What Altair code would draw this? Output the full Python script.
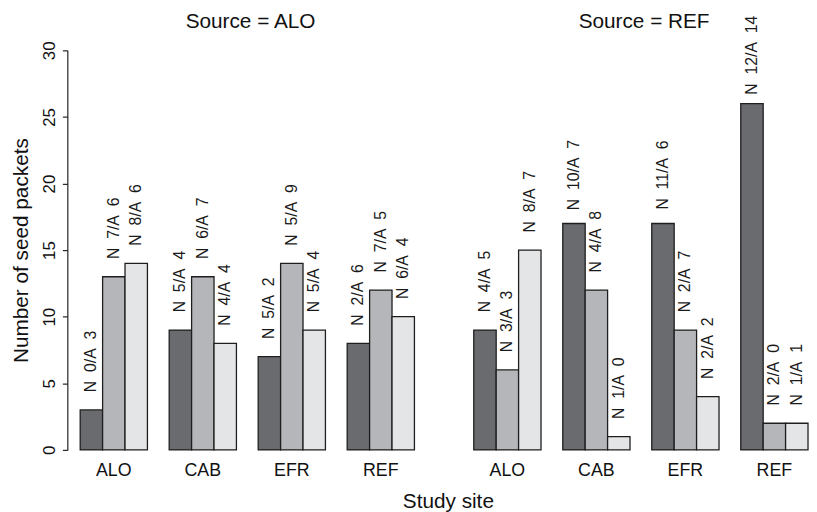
import altair as alt
import pandas as pd

sites = ["ALO", "CAB", "EFR", "REF"]
groups = ["G1", "G2", "G3"]
sources = ["ALO", "REF"]

# bar heights (number of seed packets), order: site x group
alo_values = [3, 13, 14, 9, 13, 8, 7, 14, 9, 8, 12, 10]
ref_values = [9, 6, 15, 17, 12, 1, 17, 9, 4, 26, 2, 2]
# label numbers
alo_n = [0, 7, 8, 5, 6, 4, 5, 5, 5, 2, 7, 6]
alo_a = [3, 6, 6, 4, 7, 4, 2, 9, 4, 6, 5, 4]
ref_n = [4, 3, 8, 10, 4, 1, 11, 2, 2, 12, 2, 1]
ref_a = [5, 3, 7, 7, 8, 0, 6, 7, 2, 14, 0, 1]

colors = ["#6a6b6f", "#b5b6b9", "#e4e5e6"]

rows = []
for src, vals, ns, as_ in [("ALO", alo_values, alo_n, alo_a), ("REF", ref_values, ref_n, ref_a)]:
    i = 0
    for s in sites:
        for g in groups:
            rows.append({
                "Source": src, "Site": s, "Group": g, "Count": vals[i],
                "Label": "N\u00a0\u00a0%d/A\u00a0\u00a0%d" % (ns[i], as_[i]),
            })
            i += 1
df = pd.DataFrame(rows)

FONT = "Liberation Sans"

x_enc = alt.X(
    "Site:N", sort=sites,
    scale=alt.Scale(domain=sites, paddingInner=0.2444, paddingOuter=0.0611, align=1),
    axis=alt.Axis(title=None, labelAngle=0, ticks=False, domain=False,
                  labelFontSize=18, labelPadding=12, labelFont=FONT, labelColor="#111"),
)
xo_enc = alt.XOffset("Group:N", sort=groups,
                     scale=alt.Scale(domain=groups, paddingInner=0, paddingOuter=0))
y_enc = alt.Y(
    "Count:Q", scale=alt.Scale(domain=[0, 30], nice=False, zero=True),
    axis=alt.Axis(title="Number of seed packets", values=[0, 5, 10, 15, 20, 25, 30],
                  grid=False, labelAngle=270, labelAlign="center", labelBaseline="bottom",
                  labelFontSize=17, tickSize=5, labelPadding=4, offset=2,
                  domainColor="#222", tickColor="#222", domainWidth=1.2, tickWidth=1.2,
                  titleFontSize=21, titleFontWeight="normal", titlePadding=9,
                  labelFont=FONT, titleFont=FONT, labelColor="#111", titleColor="#111"),
)

bars = alt.Chart().mark_bar(stroke="#1e1e1e", strokeWidth=1.3).encode(
    x=x_enc, xOffset=xo_enc, y=y_enc,
    color=alt.Color("Group:N", scale=alt.Scale(domain=groups, range=colors), legend=None),
)
text = alt.Chart().mark_text(
    angle=270, align="center", baseline="middle", dx=49, fontSize=16, font=FONT, color="#1a1a1a"
).encode(x=x_enc, xOffset=xo_enc, y=y_enc, text="Label:N")

chart = alt.layer(bars, text, data=df).properties(width=349, height=404).facet(
    column=alt.Column("Source:N", sort=sources, title=None,
                      header=alt.Header(labelExpr="'\u200b\u00a0\u00a0\u00a0Source = ' + datum.value",
                                        labelFontSize=21, labelFont=FONT, labelColor="#111",
                                        labelPadding=19)),
    spacing=49, bounds="flush",
).properties(
    title=alt.TitleParams("Study site", orient="bottom", anchor="middle", fontSize=21,
                          fontWeight="normal", font=FONT, color="#111", offset=12, dx=39),
).configure_view(stroke=None).properties(
    padding={"left": 3, "top": 0, "right": 0, "bottom": 0}, background="white")

chart.save("out.html", embed_options={"renderer": "svg", "actions": False})
